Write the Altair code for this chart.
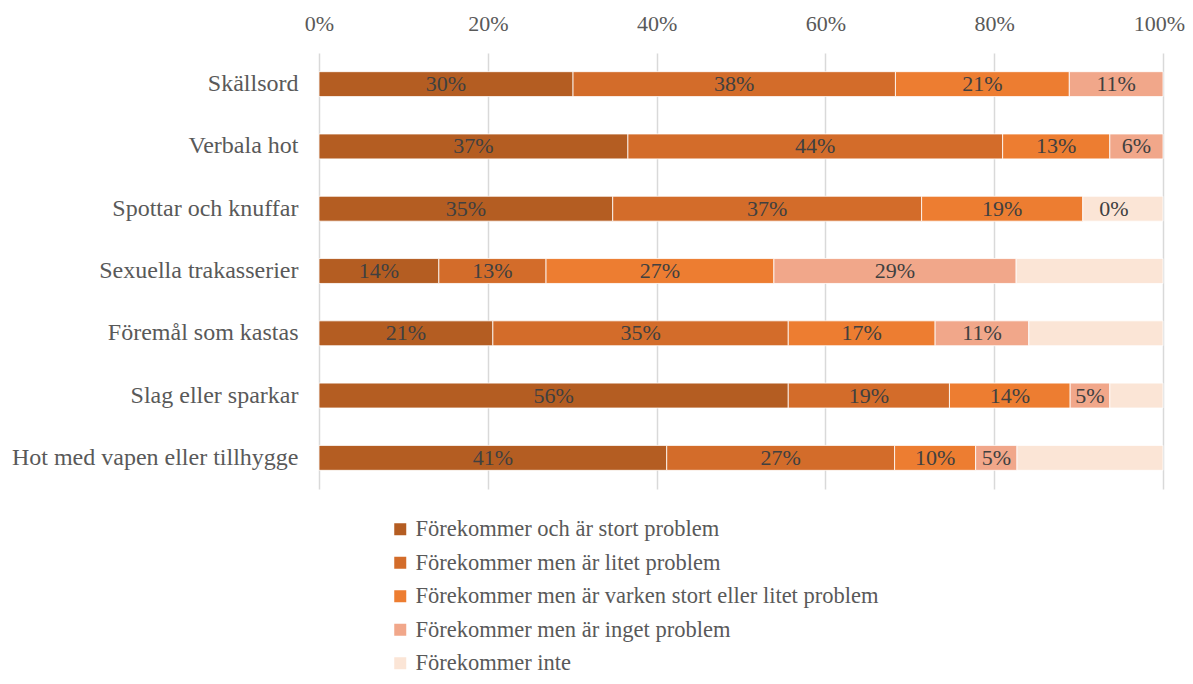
import altair as alt
import pandas as pd

categories = [
    "Skällsord\u2005",
    "Verbala hot\u2005",
    "Spottar och knuffar",
    "Sexuella trakasserier",
    "Föremål som kastas",
    "Slag eller sparkar\u2005",
    "Hot med vapen eller tillhygge",
]
series = [
    "Förekommer och är stort problem",
    "Förekommer men är litet problem",
    "Förekommer men är varken stort eller litet problem",
    "Förekommer men är inget problem",
    "Förekommer inte",
]
# percent values
stort = [30.1, 36.6, 34.8, 14.2, 20.6, 55.6, 41.2]
litet = [38.2, 44.4, 36.6, 12.7, 35.0, 19.1, 27.0]
varken = [20.6, 12.7, 19.1, 27.0, 17.4, 14.3, 9.6]
inget = [11.1, 6.3, 0.0, 28.7, 11.1, 4.7, 4.9]
inte = [0.0, 0.0, 9.5, 17.4, 15.9, 6.3, 17.3]
colors = ["#B45D22", "#D36C2A", "#ED7D31", "#F1A78A", "#FBE5D6"]
tick_values = [0, 0.2, 0.4, 0.6, 0.8, 1.0]

rows = []
for si, (name, vals) in enumerate(zip(series, [stort, litet, varken, inget, inte])):
    for ci, cat in enumerate(categories):
        rows.append({"cat": cat, "series": name, "s": si, "pct": vals[ci],
                     "show": 1 if si < 4 else 0})
df = pd.DataFrame(rows)

FONT = "Liberation Serif"

base = alt.Chart(df).transform_calculate(
    v="datum.pct / 100"
).transform_window(
    end="sum(v)", groupby=["cat"], sort=[alt.SortField("s")], frame=[None, 0]
).transform_calculate(
    start="datum.end - datum.v", mid="datum.end - datum.v / 2"
)

yenc = alt.Y("cat:N", sort=categories, title=None,
             scale=alt.Scale(paddingInner=0.6, paddingOuter=0.3),
             axis=alt.Axis(labelFont=FONT, labelFontSize=24, labelColor="#595959",
                           labelPadding=21, ticks=False, domain=False,
                           labelLimit=400))

bars = base.transform_filter("datum.v > 0").mark_bar(stroke="#FFFFFF", strokeWidth=0.8).encode(
    x=alt.X("start:Q", title=None,
            scale=alt.Scale(domain=[0, 1], nice=False),
            axis=alt.Axis(orient="top", values=tick_values, format=".0%",
                          labelFont=FONT, labelFontSize=22, labelColor="#595959",
                          labelPadding=18, labelFlush=False,
                          labelOffset={"condition": {"test": "datum.value === 1", "value": -4},
                                       "value": 0},
                          ticks=False, domain=False,
                          grid=True, gridColor="#D9D9D9", gridWidth=1.5)),
    x2="end:Q",
    y=yenc,
    color=alt.Color("series:N", scale=alt.Scale(domain=series, range=colors),
                    legend=alt.Legend(title=None, orient="none", legendX=70, legendY=465,
                                      direction="vertical", columns=1)),
)

text_kw = dict(font=FONT, fontSize=22, color="#404040", baseline="middle", align="center")
labels = base.transform_filter("datum.show == 1 && datum.v > 0").mark_text(**text_kw).encode(
    x="mid:Q",
    y=alt.Y("cat:N", sort=categories),
    text=alt.Text("v:Q", format=".0%"),
)
zero_labels = base.transform_filter("datum.show == 1 && datum.v == 0").mark_text(dx=31, **text_kw).encode(
    x="mid:Q",
    y=alt.Y("cat:N", sort=categories),
    text=alt.Text("v:Q", format=".0%"),
)

chart = alt.layer(bars, labels, zero_labels).properties(
    width=844, height=436,
    padding={"left": 311, "top": 45, "right": 22, "bottom": 187},
    autosize=alt.AutoSizeParams(type="none"),
).configure_view(stroke=None).configure_legend(
    labelFont=FONT, labelFontSize=22.5, labelColor="#595959",
    symbolType="square", symbolSize=144, symbolStrokeWidth=0,
    symbolOpacity=1, rowPadding=10.5, labelLimit=800,
)

chart.save("out.html", embed_options={"renderer": "svg", "actions": False})
